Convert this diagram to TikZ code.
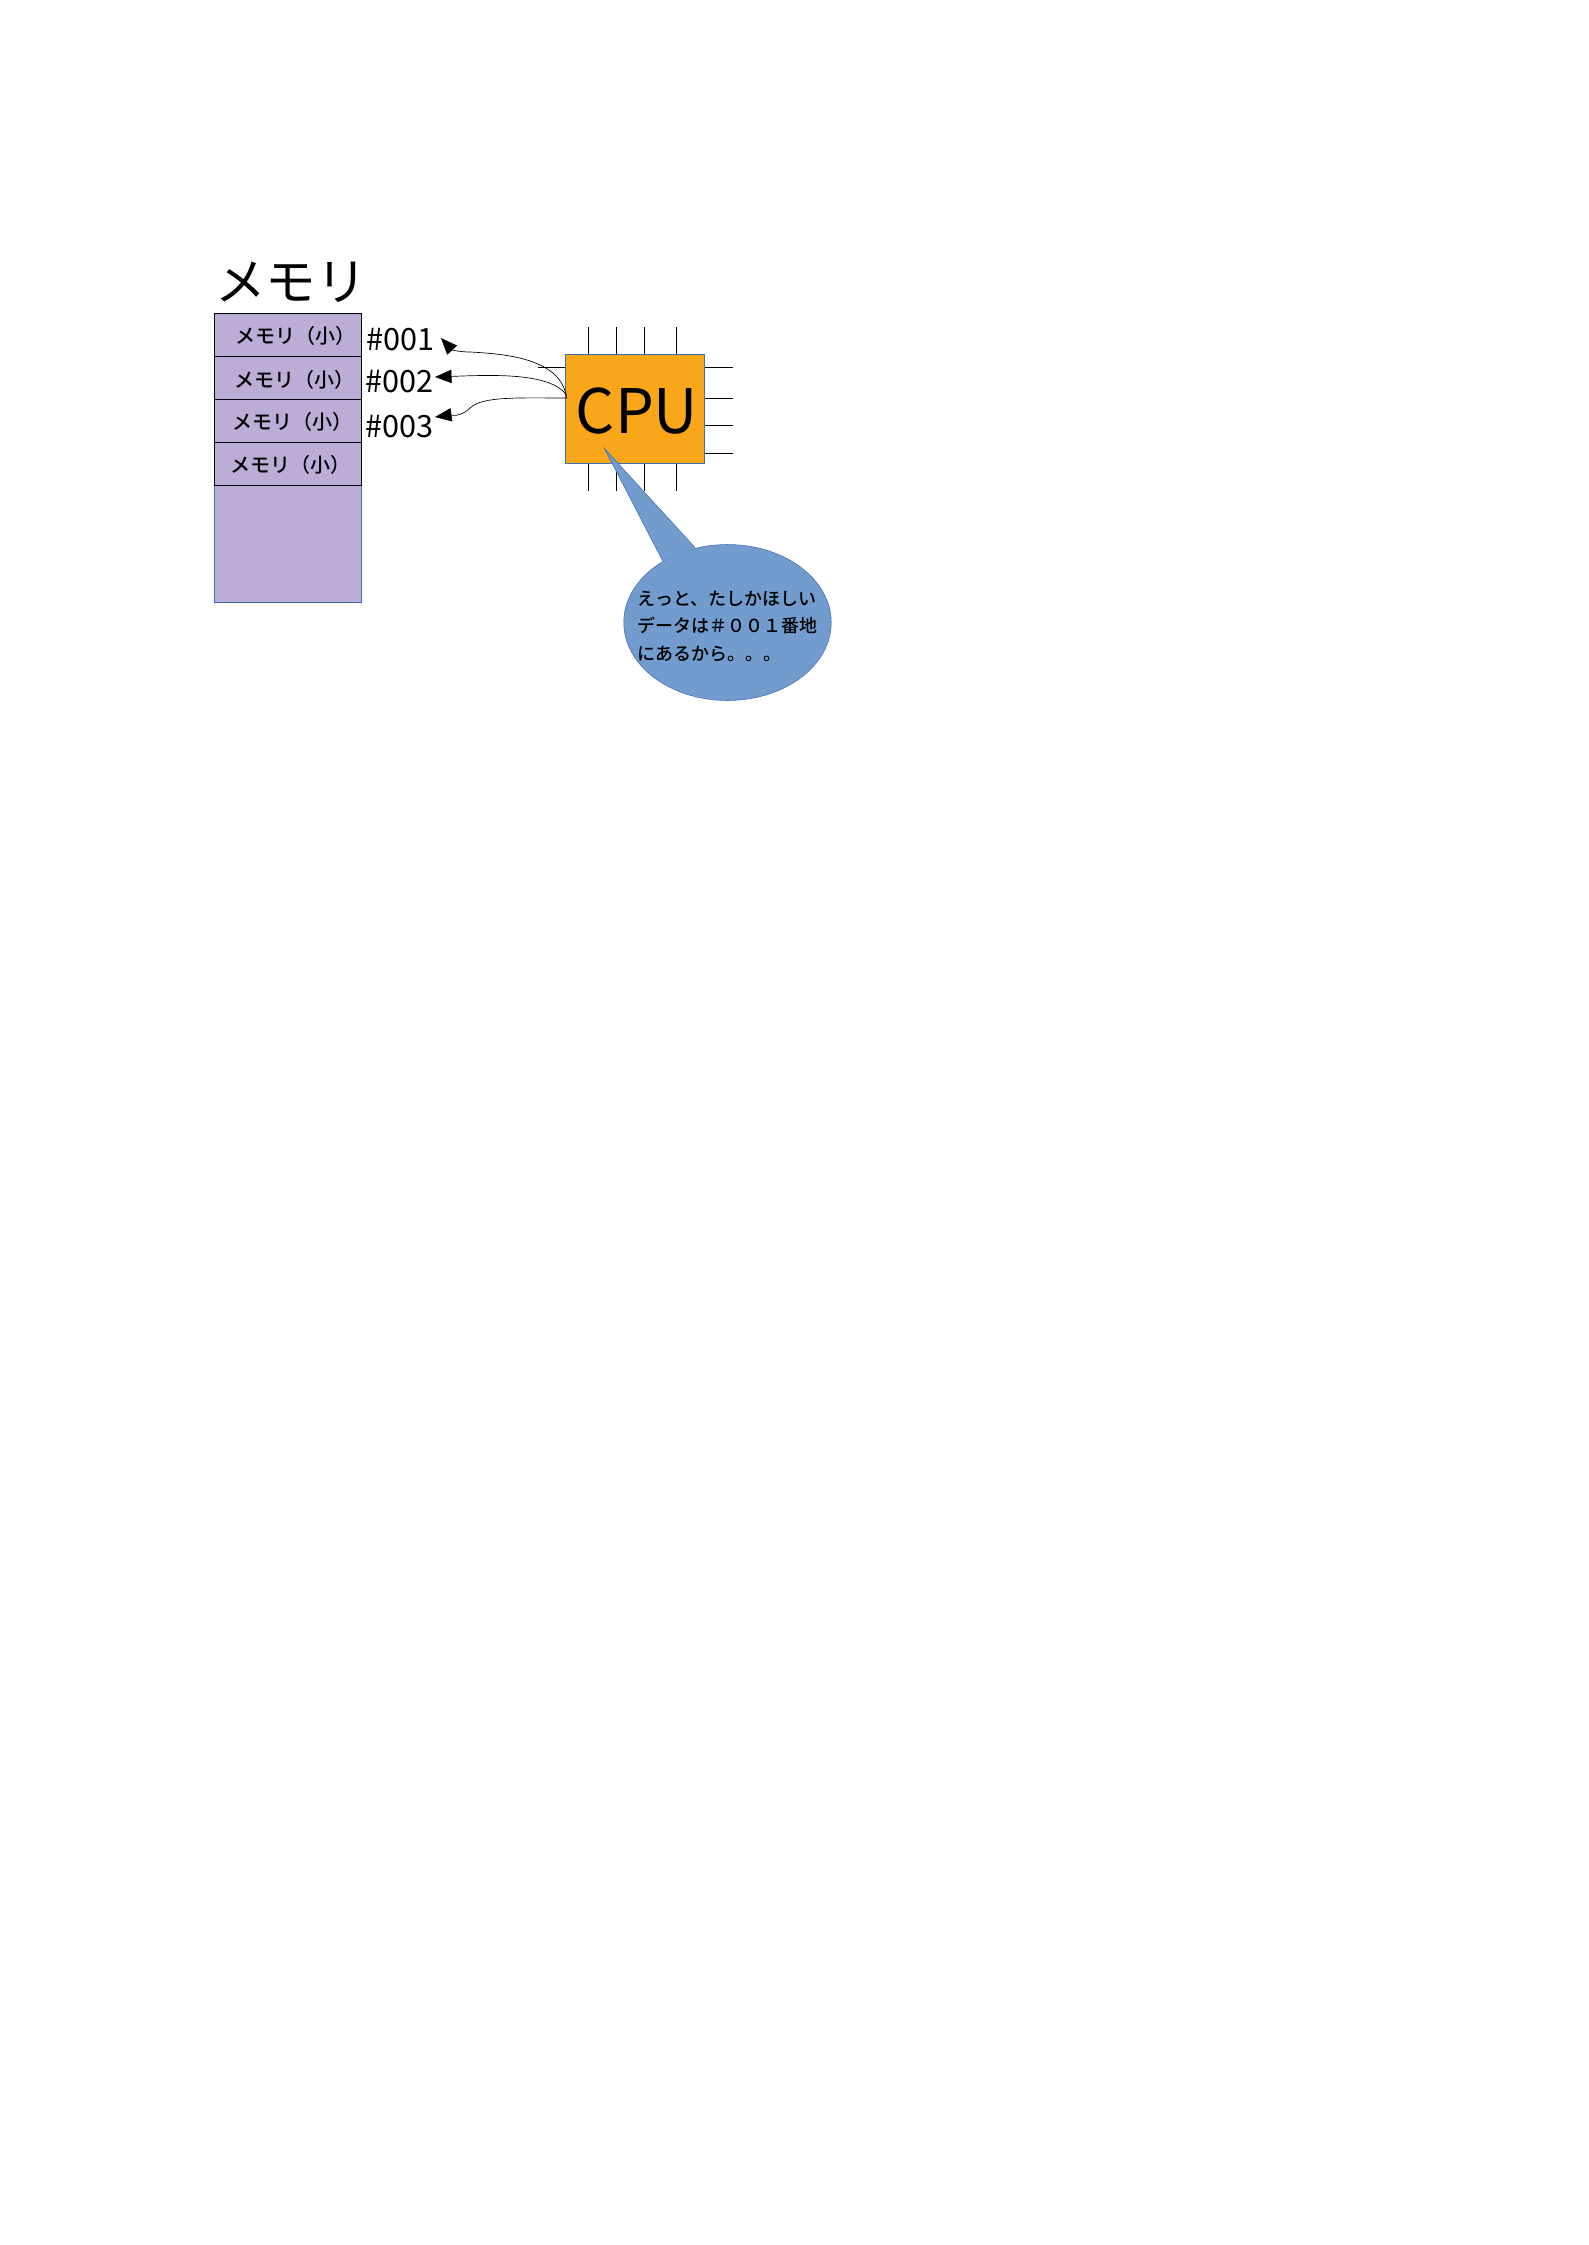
\documentclass[tikz,border=0pt]{standalone}
\usepackage{fontspec}
\setmainfont[BoldFont={Noto Sans CJK JP Medium}]{Noto Sans CJK JP}
\usetikzlibrary{arrows.meta,shapes.geometric}
\definecolor{memfill}{HTML}{BBADD5}
\definecolor{cpufill}{HTML}{FAA61A}
\definecolor{edgeblue}{HTML}{3F6FB0}
\definecolor{bubblefill}{HTML}{729BCE}
\begin{document}
\begin{tikzpicture}[x=0.375pt,y=-0.375pt]
		\tikzset{memrow/.style = {shape=rectangle,draw=black,fill=memfill,line width=0.375pt,inner sep=0pt,outer sep=0pt,minimum width=54.94pt,minimum height=16.13pt}}
		\tikzset{memtext/.style = {inner sep=0pt,font=\fontsize{7.5}{9}\selectfont\bfseries}}
		\tikzset{addr/.style = {inner sep=0pt,font=\fontsize{11.5}{13}\selectfont}}
		\tikzset{pin/.style = {line width=0.375pt}}
		\tikzset{wire/.style = {line width=0.25pt,-{Triangle[length=6.2pt,width=5pt]}}}

		\useasboundingbox (0,0) rectangle (1588,2245);

		\node[inner sep=0pt,font=\fontsize{19}{22}\selectfont] (mem_title) at (291,282) {メモリ};

		\node[shape=rectangle,draw=edgeblue,fill=memfill,line width=0.375pt,inner sep=0pt,outer sep=0pt,minimum width=54.94pt,minimum height=43.9pt] (mem_free) at (287.75,543.5) {};

		\node[memrow] (M_1) at (287.75,335) {};
		\node[memrow] (M_2) at (287.75,378) {};
		\node[memrow] (M_3) at (287.75,421) {};
		\node[memrow] (M_4) at (287.75,464) {};

		\node[memtext] (T_1) at (295.5,336) {メモリ（小）};
		\node[memtext] (T_2) at (294,380) {メモリ（小）};
		\node[memtext] (T_3) at (292,422) {メモリ（小）};
		\node[memtext] (T_4) at (290.5,465) {メモリ（小）};

		\node[addr] (A_1) at (400.5,340) {\#001};
		\node[addr] (A_2) at (399.5,382) {\#002};
		\node[addr] (A_3) at (399.5,427) {\#003};

		%pins

		\foreach \x in {588.5,616.5,644.5,676.5} {
			\draw[pin] (\x,327) -- (\x,354);
			\draw[pin] (\x,463) -- (\x,490.7);
		}
		\foreach \y in {367.5,398.5,425.5,453.5} {
			\draw[pin] (704,\y) -- (732.7,\y);
		}
		\draw[pin] (538,367.5) -- (565,367.5);

		\node[shape=rectangle,draw=edgeblue,fill=cpufill,line width=0.35pt,inner sep=0pt,outer sep=0pt,minimum width=52.13pt,minimum height=40.88pt] (cpu) at (634.5,408.5) {};
		\node[inner sep=0pt,font=\fontsize{23}{27}\selectfont] (cpu_text) at (637,411) {CPU};

		%arrows

		\coordinate (out_1) at (566.5,398);
		\coordinate (out_2) at (566.5,395);
		\coordinate (bend_1) at (470,352);
		\coordinate (bend_3) at (470,408);
		\coordinate (tip_1) at (441,338);
		\coordinate (tip_2) at (435,377);
		\coordinate (tip_3) at (435,417);

		\draw[wire] (out_1) .. controls (562,360) and (510,354) .. (bend_1) .. controls (460,352) and (452,350) .. (tip_1);
		\draw[wire] (out_2) .. controls (550,372) and (490,375) .. (tip_2);
		\draw[wire] (out_1) .. controls (520,398) and (482,396) .. (bend_3) .. controls (460,418) and (450,415) .. (tip_3);

		%bubble

		\node[shape=ellipse,draw=edgeblue,fill=bubblefill,line width=0.2pt,inner sep=0pt,outer sep=0pt,minimum width=77.8pt,minimum height=58.5pt] (bubble) at (727.5,622.5) {};
		\coordinate (tail) at (604.3,448.3);
		\coordinate (tail_r) at (695,547.5);
		\coordinate (tail_l) at (662.7,561);
		\fill[bubblefill] (tail) -- (tail_r) -- (tail_l) -- cycle;
		\draw[edgeblue,line width=0.2pt] (tail_l) -- (tail) -- (tail_r);

		\node[inner sep=0pt,anchor=west,align=left,font=\fontsize{6.75}{10.3}\selectfont\bfseries] (bubble_text) at (637,626) {えっと、たしかほしい\\データは＃００１番地\\にあるから。。。};

	\end{tikzpicture}
\end{document}
